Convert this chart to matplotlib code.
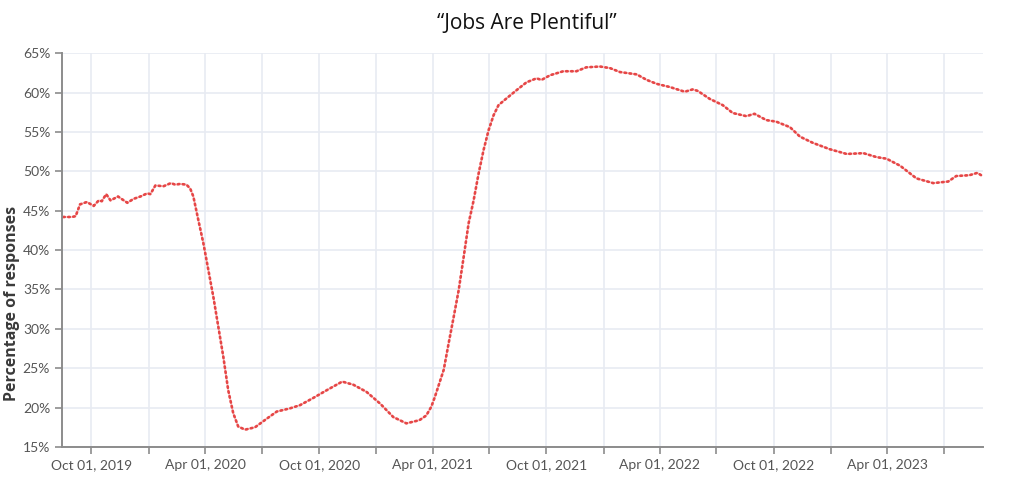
import pandas as pd
import matplotlib.pyplot as plt
import matplotlib.dates as mdates
from matplotlib.ticker import FuncFormatter, MultipleLocator

# "Jobs are plentiful" share of responses
dates = [
    "2019-08-17", "2019-08-31", "2019-09-06", "2019-09-13", "2019-09-24", "2019-10-05",
    "2019-10-13", "2019-10-18", "2019-10-25", "2019-11-01", "2019-11-13", "2019-11-28",
    "2019-12-08", "2019-12-19", "2019-12-30", "2020-01-04", "2020-01-12", "2020-01-25",
    "2020-02-06", "2020-02-13", "2020-02-21", "2020-03-02", "2020-03-08", "2020-03-13",
    "2020-03-21", "2020-03-29", "2020-04-06", "2020-04-14", "2020-04-22", "2020-04-30",
    "2020-05-08", "2020-05-16", "2020-05-24", "2020-06-04", "2020-06-20", "2020-07-09",
    "2020-07-25", "2020-08-15", "2020-08-31", "2020-09-21", "2020-10-13", "2020-11-07",
    "2020-11-25", "2020-12-16", "2021-01-07", "2021-01-28", "2021-02-18", "2021-03-11",
    "2021-03-22", "2021-03-30", "2021-04-05", "2021-04-19", "2021-04-27", "2021-05-05",
    "2021-05-13", "2021-05-21", "2021-05-29", "2021-06-06", "2021-06-14", "2021-06-22",
    "2021-06-30", "2021-07-08", "2021-07-16", "2021-07-28", "2021-08-14", "2021-08-30",
    "2021-09-15", "2021-09-23", "2021-10-07", "2021-10-28", "2021-11-18", "2021-12-04",
    "2021-12-26", "2022-01-11", "2022-01-27", "2022-02-23", "2022-03-11", "2022-03-27",
    "2022-04-17", "2022-05-11", "2022-05-24", "2022-06-01", "2022-06-20", "2022-07-11",
    "2022-07-27", "2022-08-18", "2022-08-31", "2022-09-19", "2022-10-05", "2022-10-27",
    "2022-11-12", "2022-12-03", "2022-12-30", "2023-01-26", "2023-02-22", "2023-03-15",
    "2023-03-31", "2023-04-22", "2023-05-18", "2023-06-14", "2023-07-08", "2023-07-21",
    "2023-08-11", "2023-08-24", "2023-08-30",
]
values = [
    44.2, 44.2, 44.3, 45.8, 46.1, 45.6,
    46.3, 46.2, 47.1, 46.3, 46.8, 46.0,
    46.5, 46.8, 47.2, 47.1, 48.2, 48.1,
    48.5, 48.3, 48.4, 48.3, 47.8, 46.8,
    43.8, 40.9, 37.5, 34.1, 30.3, 26.5,
    22.2, 19.3, 17.6, 17.2, 17.5, 18.6,
    19.5, 19.9, 20.3, 21.2, 22.2, 23.3,
    22.9, 22.0, 20.5, 18.8, 18.0, 18.4,
    19.0, 20.1, 21.4, 24.8, 28.2, 31.5,
    34.9, 39.1, 43.4, 46.3, 49.7, 52.7,
    55.2, 57.1, 58.4, 59.2, 60.3, 61.3,
    61.8, 61.6, 62.2, 62.7, 62.7, 63.2,
    63.3, 63.1, 62.6, 62.3, 61.6, 61.1,
    60.7, 60.1, 60.4, 60.2, 59.2, 58.4,
    57.4, 57.0, 57.3, 56.5, 56.3, 55.6,
    54.4, 53.6, 52.8, 52.2, 52.3, 51.8,
    51.6, 50.7, 49.1, 48.5, 48.7, 49.4,
    49.5, 49.8, 49.5,
]

x = pd.to_datetime(dates)

fig = plt.figure(figsize=(10.24, 4.92), dpi=100)
ax = fig.add_axes([0.0605, 0.0915, 0.8995, 0.8005])

ax.plot(x, values, color="#f7caca", lw=1.4, solid_capstyle="round")
ax.plot(x, values, color="#e64646", lw=1.9, linestyle=(0, (0.6, 1.3)),
        dash_capstyle="round")

ax.set_xlim(pd.Timestamp("2019-08-15"), pd.Timestamp("2023-09-02"))
ax.set_ylim(15, 65)
ax.yaxis.set_major_locator(MultipleLocator(5))
ax.yaxis.set_major_formatter(FuncFormatter(lambda v, p: f"{v:.0f}%"))

ax.xaxis.set_major_locator(mdates.MonthLocator(bymonth=[4, 10]))
ax.xaxis.set_major_formatter(mdates.DateFormatter("%b %d, %Y"))
ax.xaxis.set_minor_locator(mdates.MonthLocator(bymonth=[1, 7]))

ax.grid(True, which="both", color="#e8ebf2", lw=1.2)
ax.set_axisbelow(True)

for s in ["top", "right"]:
    ax.spines[s].set_visible(False)
for s in ["left", "bottom"]:
    ax.spines[s].set_color("#8c8c8c")
    ax.spines[s].set_linewidth(1.4)

ax.tick_params(axis="both", which="both", colors="#8c8c8c", length=5, width=1.2,
               labelcolor="#555555", labelsize=10)
for lab in ax.get_xticklabels() + ax.get_yticklabels():
    lab.set_family("Lato")

fig.text(0.012, 0.384, "Percentage of responses", rotation=90, ha="center", va="center",
         family="Open Sans", weight="bold", fontsize=11.5, color="#3a3a3a")

fig.text(0.514, 0.953, "\u201cJobs Are Plentiful\u201d", ha="center", va="center",
         fontsize=15, family="Open Sans", color="#111111")

fig.savefig("out.png", dpi=100)
